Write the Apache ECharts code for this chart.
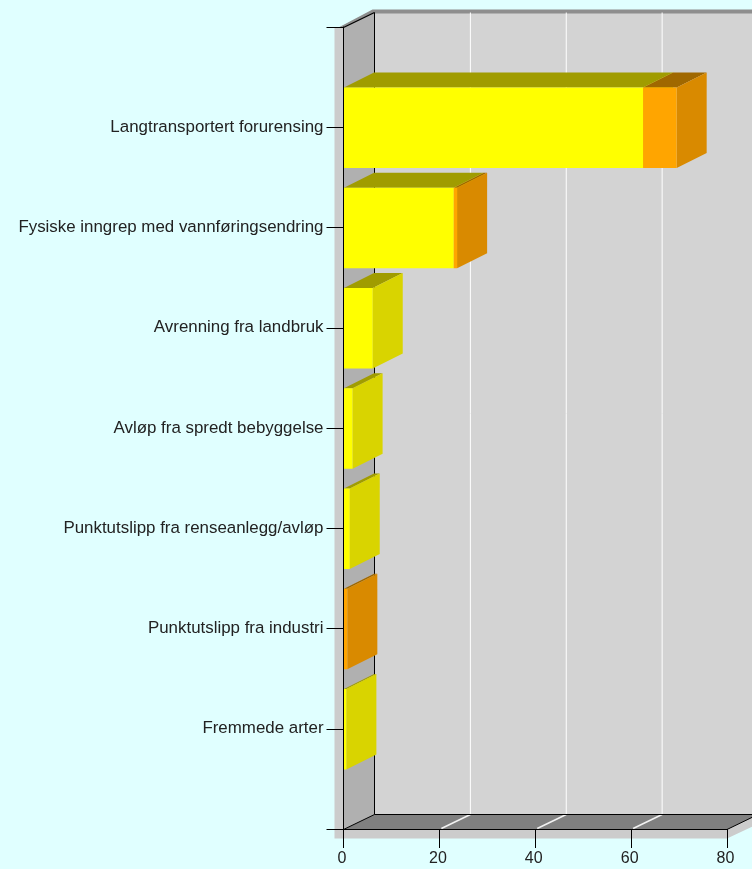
<!DOCTYPE html>
<html>
<head>
<meta charset="utf-8">
<style>html,body{margin:0;padding:0;background:#E0FFFF;overflow:hidden}#c{width:752px;height:869px}</style>
<script src="https://cdn.jsdelivr.net/npm/echarts@6/dist/echarts.min.js"></script>
</head>
<body>
<div id="c"></div>
<script>
// Category positions: the axis has an empty slot at each end, as in the picture
const categories = ['', 'Langtransportert forurensing', 'Fysiske inngrep med vannføringsendring', 'Avrenning fra landbruk', 'Avløp fra spredt bebyggelse', 'Punktutslipp fra renseanlegg/avløp', 'Punktutslipp fra industri', 'Fremmede arter', ''];
const yellowValues = [null, 62.5, 23.0, 6.1, 1.9, 1.3, 0, 0.6, null];
const orangeValues = [null, 7.0, 0.7, 0, 0, 0, 0.8, 0, null];
const xTicks = [0, 20, 40, 60, 80];

const WALL = { dx: 31, dy: -15 };
const BAR = { dx: 30, dy: -15, share: 0.803, shiftY: 0.5 };
const SHADOW = 9;
const yellowColors = { front: '#FFFF00', top: '#A09C00', side: '#D9D400' };
const orangeColors = { front: '#FFA500', top: '#A06800', side: '#D98A00' };
const inkFont = 'Liberation Sans, Arial, sans-serif';

function poly(points, fill) {
  return { type: 'polygon', shape: { points }, style: { fill }, silent: true };
}
function seg(x1, y1, x2, y2, stroke, lineWidth) {
  return { type: 'line', shape: { x1, y1, x2, y2 }, style: { stroke, lineWidth: lineWidth || 1 }, silent: true };
}

function renderWalls(params, api) {
  const g = params.coordSys;
  const L = g.x, R = g.x + g.width, T = g.y + 0.5, B = g.y + g.height + 0.5;
  const dx = WALL.dx, dy = WALL.dy;
  const children = [
    poly([[L - SHADOW, T], [L - SHADOW, B + SHADOW], [R, B + SHADOW], [R + dx + 9, B + SHADOW + dy - 4], [R + dx + 9, T], [L, T]], '#CCCCCC'),
    poly([[L + dx, T + dy], [R + dx, T + dy], [R + dx, B + dy], [L + dx, B + dy]], '#D3D3D3'),
    poly([[L - 5, T], [L + dx - 2, T + dy - 3], [R + dx + 5, T + dy - 3], [R + dx + 5, T + dy + 1], [L + dx, T + dy + 1], [L, T]], '#8E8E8E'),
    poly([[L, T], [L + dx, T + dy], [L + dx, B + dy], [L, B]], '#B0B0B0'),
    poly([[L, B], [L + dx, B + dy], [R + dx, B + dy], [R, B]], '#808080')
  ];
  xTicks.slice(1, -1).forEach(function (t) {
    const x = api.coord([t, 0])[0];
    children.push(seg(x + dx, T + dy, x + dx, B + dy, '#FFFFFF'));
    children.push(seg(x + dx, B + dy, x + 2, B - 1, '#F2F2F2', 1.5));
  });
  children.push(seg(L, T, L + dx, T + dy, '#000000', 1.3));
  children.push(seg(L + dx, T + dy, L + dx, B + dy, '#000000'));
  children.push(seg(L, B, L + dx, B + dy, '#000000'));
  children.push(seg(L + dx, B + dy, R + dx, B + dy, '#000000'));
  children.push(seg(R, B, R + dx, B + dy, '#000000'));
  return { type: 'group', children };
}

function boxRenderer(colors) {
  return function (params, api) {
    const start = api.value(0), idx = api.value(1), end = api.value(2);
    if (!(end > start)) return null;
    const p0 = api.coord([start, idx]);
    const p1 = api.coord([end, idx]);
    const band = api.size([0, 1])[1] * BAR.share;
    const x0 = start === 0 ? p0[0] + 0.5 : p0[0];
    const x1 = p1[0];
    const y0 = p0[1] - band / 2 + BAR.shiftY, y1 = p0[1] + band / 2 + BAR.shiftY;
    const dx = BAR.dx, dy = BAR.dy;
    return {
      type: 'group',
      children: [
        poly([[x0, y0], [x1, y0], [x1 + dx, y0 + dy], [x0 + dx, y0 + dy]], colors.top),
        poly([[x1, y0], [x1 + dx, y0 + dy], [x1 + dx, y1 + dy], [x1, y1]], colors.side),
        poly([[x0, y0], [x1, y0], [x1, y1], [x0, y1]], colors.front)
      ]
    };
  };
}

const yellowRows = [], orangeRows = [];
categories.forEach(function (c, i) {
  if (yellowValues[i] == null) return;
  yellowRows.push([0, i, yellowValues[i]]);
  orangeRows.push([yellowValues[i], i, yellowValues[i] + orangeValues[i]]);
});

const chart = echarts.init(document.getElementById('c'), null, { renderer: 'canvas' });
chart.setOption({
  animation: false,
  backgroundColor: '#E0FFFF',
  tooltip: { show: false },
  grid: { left: 343.5, width: 383.5, top: 27, height: 802, containLabel: false },
  xAxis: {
    type: 'value', min: 0, max: 80, interval: 20,
    axisLine: { show: true, lineStyle: { color: '#000', width: 1 } },
    axisTick: { show: true, length: 19, lineStyle: { color: '#000', width: 1 } },
    axisLabel: { color: '#222', fontFamily: inkFont, fontSize: 16, margin: 22, padding: [0, 3, 0, 0], hideOverlap: false },
    splitLine: { show: false }
  },
  yAxis: {
    type: 'category', inverse: true, boundaryGap: false, data: categories,
    axisLine: { show: true, lineStyle: { color: '#000', width: 1 } },
    axisTick: { show: true, length: 17, interval: 0, lineStyle: { color: '#000', width: 1 } },
    axisLabel: { color: '#222', fontFamily: inkFont, fontSize: 16.9, margin: 20, padding: [4, 0, 0, 0], interval: 0, hideOverlap: false },
    splitLine: { show: false }
  },
  series: [
    { type: 'custom', z: -1, silent: true, coordinateSystem: 'cartesian2d', data: [[0, 0]], encode: { x: 0, y: 1 }, renderItem: renderWalls },
    { type: 'custom', z: 2, silent: true, coordinateSystem: 'cartesian2d', data: yellowRows, encode: { x: [0, 2], y: 1 }, renderItem: boxRenderer(yellowColors) },
    { type: 'custom', z: 3, silent: true, coordinateSystem: 'cartesian2d', data: orangeRows, encode: { x: [0, 2], y: 1 }, renderItem: boxRenderer(orangeColors) }
  ]
});
</script>
</body>
</html>
